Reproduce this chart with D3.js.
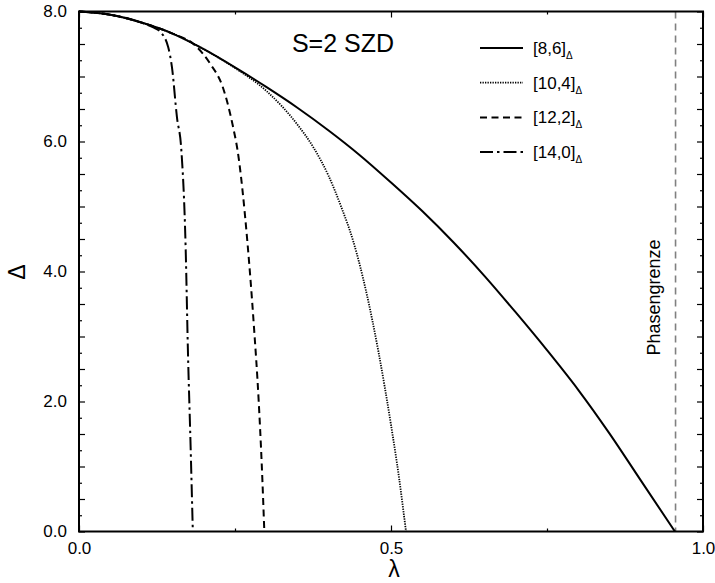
<!DOCTYPE html>
<html>
<head>
<meta charset="utf-8">
<script src="https://cdn.jsdelivr.net/npm/d3@7"></script>
<style>
  body { margin: 0; background: #fff; }
  text { font-family: "Liberation Sans", Arial, sans-serif; }
</style>
</head>
<body>
<div id="chart"></div>
<script>
// curve data (lambda, Delta)
const lambda86  = [0, 0.05, 0.1, 0.15, 0.2, 0.25, 0.3, 0.35, 0.4, 0.45, 0.5, 0.55, 0.6, 0.65, 0.7, 0.75, 0.8, 0.85, 0.9, 0.955];
const delta86   = [8.0, 7.95, 7.83, 7.66, 7.42, 7.14, 6.84, 6.52, 6.17, 5.79, 5.37, 4.93, 4.45, 3.93, 3.37, 2.79, 2.18, 1.51, 0.79, 0];
const lambda104 = [0, 0.05, 0.1, 0.15, 0.2, 0.25, 0.3, 0.35, 0.375, 0.4, 0.42, 0.44, 0.46, 0.48, 0.5, 0.513, 0.524];
const delta104  = [8.0, 7.95, 7.83, 7.66, 7.42, 7.13, 6.78, 6.26, 5.92, 5.47, 5.0, 4.45, 3.7, 2.76, 1.64, 0.82, 0];
const lambda122 = [0, 0.05, 0.1, 0.15, 0.186, 0.21, 0.231, 0.247, 0.254, 0.27, 0.28, 0.288, 0.293, 0.297];
const delta122  = [8.0, 7.95, 7.83, 7.66, 7.48, 7.2, 6.82, 6.22, 5.87, 4.44, 3.2, 2.0, 1.0, 0];
const lambda140 = [0, 0.05, 0.1, 0.12, 0.13, 0.143, 0.149, 0.157, 0.164, 0.171, 0.1745, 0.179, 0.1824];
const delta140  = [8.0, 7.95, 7.83, 7.75, 7.69, 7.45, 7.14, 6.37, 5.87, 4.33, 2.8, 1.26, 0];

const seriesNames = ["[8,6]", "[10,4]", "[12,2]", "[14,0]"];
const phaseBoundary = 0.956;

const xTicksMajor = [0, 0.5, 1.0];
const xTicksMinor = [0.25, 0.75];
const yTicksMajor = [0, 0.5, 1, 1.5, 2, 2.5, 3, 3.5, 4, 4.5, 5, 5.5, 6, 6.5, 7, 7.5, 8];
const yTicksMinor = [0.25, 0.75, 1.25, 1.75, 2.25, 2.75, 3.25, 3.75, 4.25, 4.75, 5.25, 5.75, 6.25, 6.75, 7.25, 7.75];

const svgWidth = 715;
const svgHeight = 583;
const margin = { top: 11.5, right: 12, bottom: 51.5, left: 79 };
const chartWidth = svgWidth - margin.left - margin.right;
const chartHeight = svgHeight - margin.top - margin.bottom;

const svg = d3.select("#chart").append("svg")
    .attr("width", svgWidth)
    .attr("height", svgHeight);

const g = svg.append("g")
    .attr("transform", `translate(${margin.left}, ${margin.top})`);

const x = d3.scaleLinear().domain([0, 1]).range([0, chartWidth]);
const y = d3.scaleLinear().domain([0, 8]).range([chartHeight, 0]);

// ticks: all four sides, pointing inward
function tickAxis(axis, size, fmt) {
    return axis.tickSize(size).tickFormat(fmt || "");
}
const fmtY = d => (d % 2 === 0 ? d3.format(".1f")(d) : "");

g.append("g").attr("class", "ax")
    .call(tickAxis(d3.axisLeft(y).tickValues(yTicksMajor), -6, fmtY).tickPadding(12));
g.append("g").attr("class", "ax")
    .call(tickAxis(d3.axisLeft(y).tickValues(yTicksMinor), -3));
g.append("g").attr("class", "ax").attr("transform", `translate(${chartWidth},0)`)
    .call(tickAxis(d3.axisRight(y).tickValues(yTicksMajor), -6));
g.append("g").attr("class", "ax").attr("transform", `translate(${chartWidth},0)`)
    .call(tickAxis(d3.axisRight(y).tickValues(yTicksMinor), -3));

g.append("g").attr("class", "ax").attr("transform", `translate(0,${chartHeight})`)
    .call(tickAxis(d3.axisBottom(x).tickValues(xTicksMajor), -6, d3.format(".1f")).tickPadding(10));
g.append("g").attr("class", "ax").attr("transform", `translate(0,${chartHeight})`)
    .call(tickAxis(d3.axisBottom(x).tickValues(xTicksMinor), -3));
g.append("g").attr("class", "ax")
    .call(tickAxis(d3.axisTop(x).tickValues(xTicksMajor), -6));
g.append("g").attr("class", "ax")
    .call(tickAxis(d3.axisTop(x).tickValues(xTicksMinor), -3));

g.selectAll(".ax .domain").remove();
g.selectAll(".ax line").attr("stroke", "#000").attr("stroke-width", 1.2);
g.selectAll(".ax text")
    .attr("font-size", 17)
    .attr("fill", "#000")
    .style("font-family", "'Liberation Sans', Arial, sans-serif");

// phase boundary
g.append("line")
    .attr("x1", x(phaseBoundary)).attr("x2", x(phaseBoundary))
    .attr("y1", 0).attr("y2", chartHeight)
    .attr("stroke", "#808080")
    .attr("stroke-width", 1.6)
    .attr("stroke-dasharray", "7,5");

g.append("text")
    .attr("transform", `translate(${x(phaseBoundary) - 16}, 286) rotate(-90)`)
    .attr("text-anchor", "middle")
    .attr("font-size", 18)
    .text("Phasengrenze");

// curves
const styles = [
    { dash: null, width: 2 },
    { dash: "1.3,1.2", width: 1.8 },
    { dash: "7,4.5", width: 2 },
    { dash: "13,4,2.5,4", width: 2 }
];
const allSeries = [
    lambda86.map((l, i) => [l, delta86[i]]),
    lambda104.map((l, i) => [l, delta104[i]]),
    lambda122.map((l, i) => [l, delta122[i]]),
    lambda140.map((l, i) => [l, delta140[i]])
];

const line = d3.line()
    .x(d => x(d[0]))
    .y(d => y(d[1]))
    .curve(d3.curveMonotoneX);

allSeries.forEach((s, i) => {
    g.append("path")
        .datum(s)
        .attr("fill", "none")
        .attr("stroke", "#000")
        .attr("stroke-width", styles[i].width)
        .attr("stroke-dasharray", styles[i].dash)
        .attr("d", line);
});

// frame
g.append("rect")
    .attr("width", chartWidth)
    .attr("height", chartHeight)
    .attr("fill", "none")
    .attr("stroke", "#000")
    .attr("stroke-width", 2);

// title
g.append("text")
    .attr("x", 264)
    .attr("y", 40)
    .attr("text-anchor", "middle")
    .attr("font-size", 25)
    .text("S=2 SZD");

// legend
const legend = g.append("g").attr("transform", "translate(401, 0)");
seriesNames.forEach((name, i) => {
    const ly = 36.5 + i * 34.7;
    legend.append("line")
        .attr("x1", 0).attr("x2", 43)
        .attr("y1", ly).attr("y2", ly)
        .attr("stroke", "#000")
        .attr("stroke-width", styles[i].width)
        .attr("stroke-dasharray", styles[i].dash);
    const t = legend.append("text")
        .attr("x", 53)
        .attr("y", ly + 6)
        .attr("font-size", 17)
        .text(name);
    t.append("tspan")
        .attr("dy", 5)
        .attr("font-size", 10)
        .text("Δ");
});

// axis labels
svg.append("text")
    .attr("x", margin.left + x(0.5) + 3)
    .attr("y", 577)
    .attr("text-anchor", "middle")
    .attr("font-size", 23)
    .text("λ");

svg.append("text")
    .attr("transform", "translate(25, 272) rotate(-90)")
    .attr("text-anchor", "middle")
    .attr("font-size", 23)
    .text("Δ");
</script>
</body>
</html>
